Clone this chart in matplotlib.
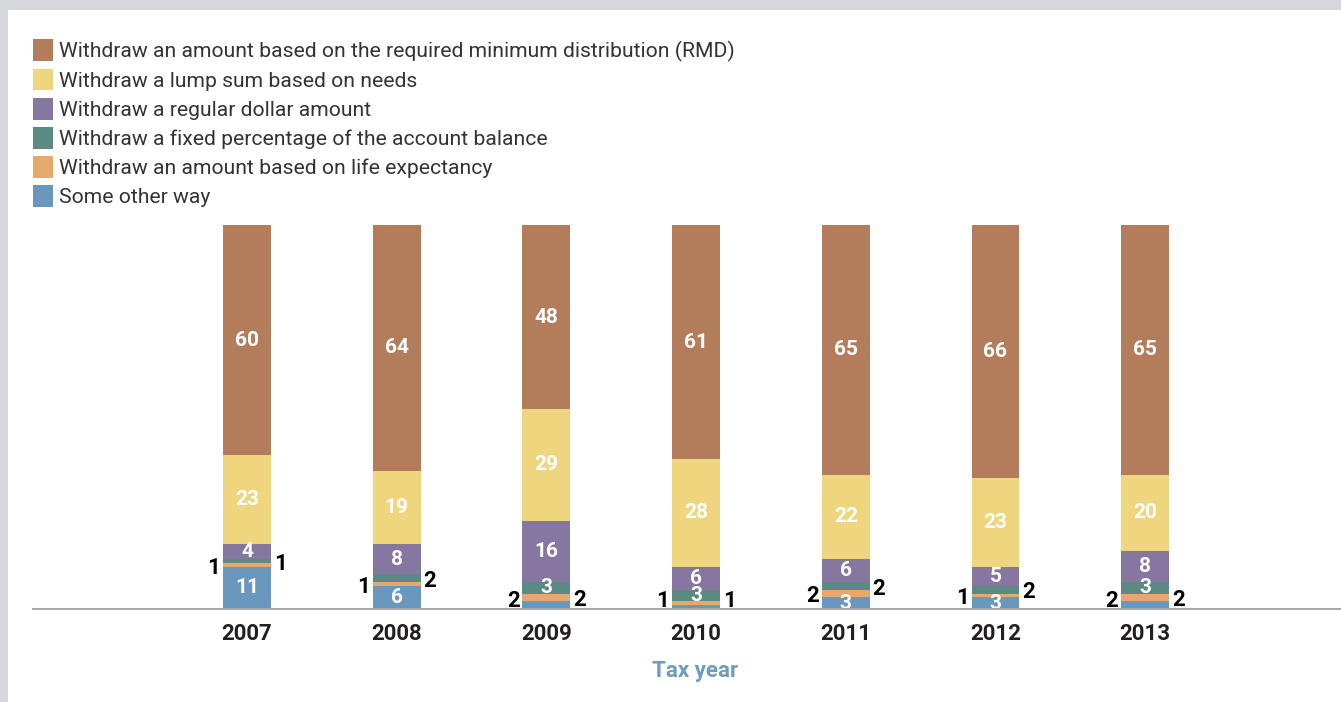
import numpy as np
import matplotlib.pyplot as plt
from matplotlib.patches import Rectangle

plt.rcParams['font.family'] = ['Roboto', 'DejaVu Sans']

years = ["2007", "2008", "2009", "2010", "2011", "2012", "2013"]

# stacked bottom -> top
other_way = [11, 6, 2, 1, 3, 3, 2]
life_expectancy = [1, 1, 2, 1, 2, 1, 2]
fixed_pct = [1, 2, 3, 3, 2, 2, 3]
regular_dollar = [4, 8, 16, 6, 6, 5, 8]
lump_sum = [23, 19, 29, 28, 22, 23, 20]
rmd = [60, 64, 48, 61, 65, 66, 65]

series = [other_way, life_expectancy, fixed_pct, regular_dollar, lump_sum, rmd]
names = [
    "Some other way",
    "Withdraw an amount based on life expectancy",
    "Withdraw a fixed percentage of the account balance",
    "Withdraw a regular dollar amount",
    "Withdraw a lump sum based on needs",
    "Withdraw an amount based on the required minimum distribution (RMD)",
]
colors = ["#6a97bd", "#e4a96b", "#5b8a85", "#85779f", "#eed57e", "#b37d5b"]

W, H = 1341, 702
fig = plt.figure(figsize=(W / 100, H / 100), dpi=100)
fig.patch.set_facecolor("#d6d7dc")
fig.patches.append(Rectangle((8 / W, 0), 1, (H - 10) / H, transform=fig.transFigure,
                             facecolor="white", edgecolor="none", zorder=-5))

ax = fig.add_axes([33 / W, 93 / H, 1 - 33 / W, 384 / H])
ax.set_facecolor("none")

x = np.arange(len(years))
width = 0.32
bottom = np.zeros(len(years))
bars = []
for vals, name, col in zip(series, names, colors):
    b = ax.bar(x, vals, width, bottom=bottom, color=col, label=name, zorder=2)
    bars.append(b)
    bottom += np.array(vals)

# value labels: big segments inside, small ones beside the bar
for i in range(len(years)):
    base = 0
    side = 0
    for vals in series:
        v = vals[i]
        mid = base + v / 2
        if v >= 3:
            ax.text(x[i], mid, str(v), ha="center", va="center", color="white",
                    fontsize=15, fontweight="bold", zorder=3)
        else:
            y = max(mid - 0.7, 2.0)
            if side == 0:
                ax.annotate(str(v), (x[i] - width / 2, y), xytext=(-2, 0),
                            textcoords="offset points", ha="right", va="center",
                            fontsize=16, fontweight="bold", color="black")
            else:
                ax.annotate(str(v), (x[i] + width / 2, y), xytext=(2, 0),
                            textcoords="offset points", ha="left", va="center",
                            fontsize=16, fontweight="bold", color="black")
            side += 1
        base += v

ax.set_xlim((33 - 247) / 149.7, (W - 247) / 149.7)
ax.set_ylim(0, 100)
ax.set_yticks([])
ax.set_xticks(x)
ax.set_xticklabels(years, fontsize=16, fontweight="bold", color="#231f20")
ax.tick_params(axis="x", length=0, pad=10)
for s in ["top", "left", "right"]:
    ax.spines[s].set_visible(False)
ax.spines["bottom"].set_color("#a8a8a8")
ax.spines["bottom"].set_linewidth(1.5)
ax.spines["bottom"].set_zorder(4)

fig.text(695 / W, (H - 671) / H, "Tax year", ha="center", va="center",
         fontsize=16, fontweight="bold", color="#6f9bc1")

ax.legend(bars[::-1], names[::-1], loc="upper left",
          bbox_to_anchor=(33 / W, (H - 39) / H), bbox_transform=fig.transFigure,
          frameon=False, fontsize=15.2, handlelength=0.95, handleheight=1.2,
          handletextpad=0.3, labelspacing=0.34, borderpad=0, borderaxespad=0,
          labelcolor="#333333")

fig.savefig("out.png", dpi=100, facecolor=fig.get_facecolor())
